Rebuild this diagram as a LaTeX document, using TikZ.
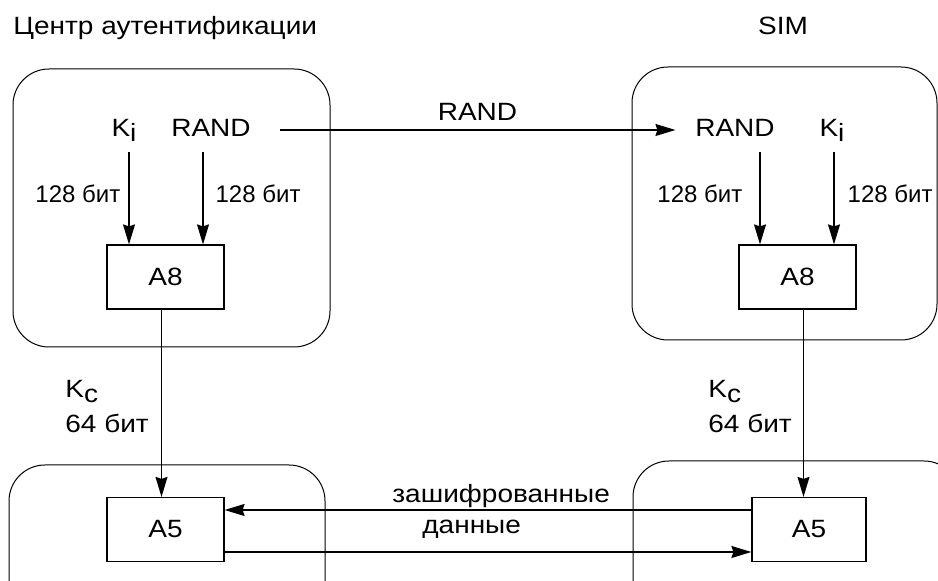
\documentclass[tikz,border=0pt]{standalone}
\usepackage{fontspec}
\setmainfont{Liberation Sans}[FakeStretch=1.12]
\newfontfamily\bitfont{Liberation Sans}
\usetikzlibrary{arrows.meta,positioning}

% lowered index letter as in K_i, K_c
\newcommand\lowidx[1]{\raisebox{-0.35ex}{#1}}

\begin{document}
\begin{tikzpicture}[x=0.5pt,y=-0.5pt,>={Stealth[length=10pt,width=6pt,inset=1pt]},
  every node/.style={font=\fontsize{12.5}{15}\selectfont},
  grp/.style={draw,line width=0.5pt,rounded corners=18pt},
  algo/.style={draw,line width=0.6pt,minimum width=58.5pt,minimum height=32pt,inner sep=0pt},
  src/.style={inner sep=5.5pt,text height=9pt,text depth=2pt},
  lbl/.style={inner sep=0pt},
  bits/.style={lbl,font=\bitfont\fontsize{12}{14}\selectfont},
  flow/.style={->,line width=0.65pt}]
\useasboundingbox (0,0) rectangle (938,581);
\clip (0,0) rectangle (938,581);

% outlines of the two sides
\draw[grp] (13,69) rectangle (330,347);
\draw[grp] (632,67) rectangle (937,340);
\draw[grp] (9,465) rectangle (325,640);
\draw[grp] (633,461) rectangle (960,640);

\node[lbl,anchor=base west] (auc) at (13,35) {Центр аутентификации};
\node[lbl,anchor=base] (sim) at (783,35) {SIM};

% authentication centre
\node[src,anchor=base] (kiL) at (124,137) {K\lowidx{i}};
\node[src,anchor=base] (randL) at (211,137) {RAND};
\node[algo] (a8L) at (165.5,277) {A8};
\node[algo] (a5L) at (165.5,529.5) {A5};

% SIM card
\node[src,anchor=base] (randR) at (735,137) {RAND};
\node[src,anchor=base] (kiR) at (832,137) {K\lowidx{i}};
\node[algo] (a8R) at (797.5,277) {A8};
\node[algo,minimum width=57pt] (a5R) at (809,529.5) {A5};

% inputs of A8
\draw[flow] ([xshift=-18.25pt]a8L.north |- kiL.south) -- node[pos=0.45,left=4pt,bits]{128 бит} ([xshift=-18.25pt]a8L.north);
\draw[flow] ([xshift=18.75pt]a8L.north |- randL.south) -- node[pos=0.45,right=6pt,bits]{128 бит} ([xshift=18.75pt]a8L.north);
\draw[flow] ([xshift=-18.75pt]a8R.north |- randR.south) -- node[pos=0.45,left=8.5pt,bits]{128 бит} ([xshift=-18.75pt]a8R.north);
\draw[flow] ([xshift=18.25pt]a8R.north |- kiR.south) -- node[pos=0.45,right=6.5pt,bits]{128 бит} ([xshift=18.25pt]a8R.north);

\draw[flow] ([xshift=8.75pt]randL.east) -- node[above=4.5pt,lbl]{RAND} ([xshift=-4.25pt]randR.west);

% session key K_c
\draw[flow] ([xshift=-2pt]a8L.south) -- ([xshift=-2pt]a8L.south |- a5L.north);
\draw[flow] ([xshift=3pt]a8R.south) -- ([xshift=3pt]a8R.south |- a5R.north);
\node[lbl,anchor=north west,align=left] (kcL) at (65,380) {K\lowidx{c}\\[2.5pt]64 бит};
\node[lbl,anchor=north west,align=left] (kcR) at (708,380) {K\lowidx{c}\\[2.5pt]64 бит};

% ciphered traffic
\draw[flow] ([yshift=9.75pt]a5R.west) -- ([yshift=9.75pt]a5L.east);
\draw[flow] ([yshift=-11.25pt]a5L.east) -- ([yshift=-11.25pt]a5R.west);
\node[lbl,anchor=north west,align=left] (enc) at (392,484) {зашифрованные\\[0.5pt]\hspace*{15pt}данные};
\end{tikzpicture}
\end{document}
